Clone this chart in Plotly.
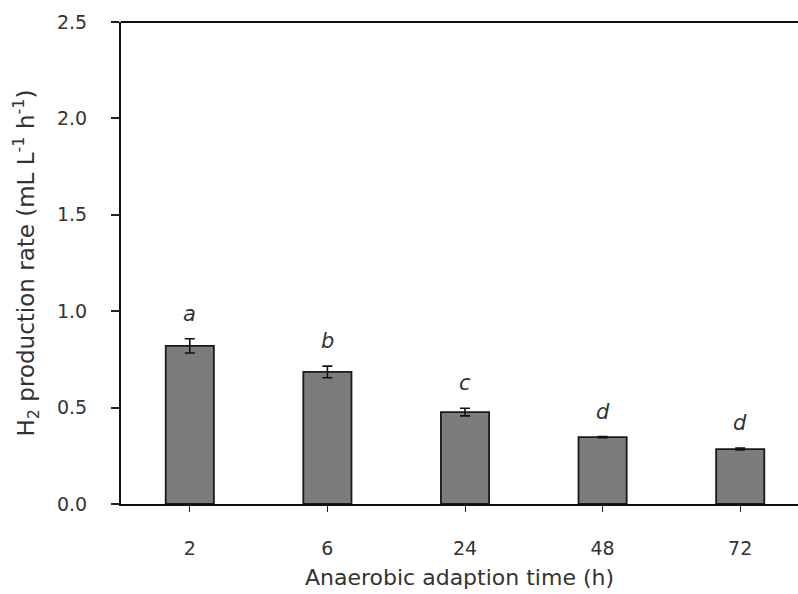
import plotly.graph_objects as go

times = ["2", "6", "24", "48", "72"]
rates = [0.82, 0.685, 0.477, 0.347, 0.285]
errors = [0.037, 0.030, 0.020, 0.003, 0.005]
letters = ["a", "b", "c", "d", "d"]

FONT = "DejaVu Sans"
TXT = "#333333"

fig = go.Figure()
fig.add_trace(go.Bar(
    x=times, y=rates, width=0.35,
    marker=dict(color="#7c7c7c", line=dict(color="#1a1a1a", width=1.8)),
    error_y=dict(type="data", array=errors, visible=True, color="#111111",
                 thickness=1.6, width=5),
    showlegend=False,
))

for i, (v, e, l) in enumerate(zip(rates, errors, letters)):
    fig.add_annotation(x=i, y=v + e, xref="x", yref="y", text=l, showarrow=False,
                       yanchor="middle", yshift=25,
                       font=dict(family=FONT, size=21, color=TXT, style="italic"))

# top frame line
fig.add_shape(type="line", xref="paper", yref="paper", x0=0, x1=1, y0=1, y1=1,
              line=dict(color="#111111", width=2))

fig.update_layout(
    width=798, height=594,
    margin=dict(l=121, r=0, t=22, b=90),
    paper_bgcolor="white", plot_bgcolor="white",
    font=dict(family=FONT, size=19, color=TXT),
    xaxis=dict(
        type="category", range=[-0.5, 4.42],
        showline=True, linecolor="#111111", linewidth=2, mirror=False,
        ticks="outside", ticklen=6, tickwidth=1.2, tickcolor="#222222",
        ticklabelstandoff=20, showgrid=False, zeroline=False,
        title=dict(text="Anaerobic adaption time (h)", standoff=12,
                   font=dict(family=FONT, size=22, color=TXT)),
    ),
    yaxis=dict(
        range=[0, 2.5], dtick=0.5, tickformat=".1f",
        showline=True, linecolor="#111111", linewidth=2,
        ticks="outside", ticklen=8, tickwidth=1.5, tickcolor="#222222",
        ticklabelstandoff=20, showgrid=False, zeroline=False,
        title=dict(text="H<sub>2</sub> production rate (mL L<sup>-1</sup> h<sup>-1</sup>)",
                   standoff=16, font=dict(family=FONT, size=23, color=TXT)),
    ),
)

fig.write_html("out.html")
